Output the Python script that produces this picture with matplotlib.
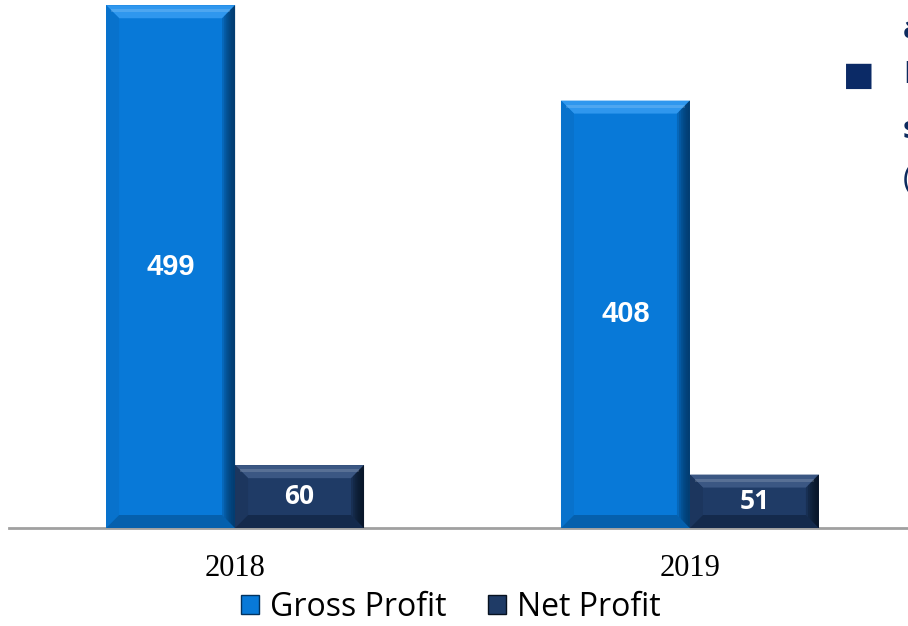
import matplotlib
matplotlib.use("Agg")
import matplotlib.pyplot as plt
from matplotlib.patches import Polygon, Rectangle
import numpy as np

# data
years = ["2018", "2019"]
gross_profit = [499, 408]
net_profit = [60, 51]
series_names = ["Gross Profit", "Net Profit"]

# colours: face, top, left, right, bottom
GROSS = ["#0879d8", "#2f97ee", "#0872cc", "#02325e", "#0560ad"]
NET = ["#1f3b66", "#3b5783", "#1c365e", "#07111f", "#142a4c"]

fig = plt.figure(figsize=(9.08, 6.26), dpi=100)
ax = fig.add_axes([9 / 908, 98 / 626, 907 / 908, 528 / 626])

x = np.arange(len(years))
w = 0.2835
ax.set_xlim(-0.497, 1.497)
ax.set_ylim(0, 504)

bars_g = ax.bar(x - w / 2, gross_profit, w, color=GROSS[0], zorder=2)
bars_n = ax.bar(x + w / 2, net_profit, w, color=NET[0], zorder=2)

# px -> data scale
sx = (1.497 + 0.497) / 907.0
sy = 504 / 528.0
bev = 13


def bevel(rect, cols):
	x0, y0 = rect.get_x(), rect.get_y()
	x1, y1 = x0 + rect.get_width(), y0 + rect.get_height()
	dx, dy = bev * sx, bev * sy
	polys = [
		([(x0, y1), (x1, y1), (x1 - dx, y1 - dy), (x0 + dx, y1 - dy)], cols[1], 1.0),
		([(x0, y0), (x0, y1), (x0 + dx, y1 - dy), (x0 + dx, y0 + dy)], cols[2], 1.0),
		([(x0, y0), (x1, y0), (x1 - dx, y0 + dy), (x0 + dx, y0 + dy)], cols[4], 1.0),
	]
	for pts, c, a in polys:
		ax.add_patch(Polygon(pts, closed=True, facecolor=c, edgecolor="none", alpha=a, zorder=3))
	# right side: darkening towards the edge
	n = 6
	for i in range(n):
		f0 = i / n
		xa = x1 - dx * (1 - f0)
		pts = [(xa, y0 + dy * (1 - f0)), (x1, y0), (x1, y1), (xa, y1 - dy * (1 - f0))]
		ax.add_patch(Polygon(pts, closed=True, facecolor=cols[3], edgecolor="none",
			alpha=0.25, zorder=3))
	# thin highlight along the top
	ax.add_patch(Rectangle((x0 + dx * 0.4, y1 - 7 * sy), x1 - x0 - dx * 0.8, 3 * sy,
		facecolor="white", alpha=0.15, edgecolor="none", zorder=4))


for b in bars_g:
	bevel(b, GROSS)
for b in bars_n:
	bevel(b, NET)

# value labels
for xi, v in zip(x, gross_profit):
	ax.text(xi - w / 2, v / 2, str(v), ha="center", va="center", color="white",
		fontsize=21, fontweight="bold", family="Liberation Sans", zorder=5)
for xi, v in zip(x, net_profit):
	ax.text(xi + w / 2, v / 2, str(v), ha="center", va="center", color="white",
		fontsize=19, fontweight="bold", family="Open Sans", zorder=5)

# axes styling
for s in ["top", "right", "left"]:
	ax.spines[s].set_visible(False)
ax.spines["bottom"].set_color("#a0a0a0")
ax.spines["bottom"].set_linewidth(2)
ax.spines["bottom"].set_zorder(1)
ax.set_yticks([])
ax.set_xticks(x)
ax.set_xticklabels(years, family="Liberation Serif", fontsize=22)
ax.tick_params(axis="x", length=0, pad=19)

# legend
handles = [Rectangle((0, 0), 1, 1, facecolor=GROSS[0], edgecolor=GROSS[3]),
	Rectangle((0, 0), 1, 1, facecolor=NET[0], edgecolor=NET[3])]
fig.legend(handles, series_names, loc="center", bbox_to_anchor=(451 / 908, 1 - 607 / 626),
	ncol=2, frameon=False, prop={"family": "Open Sans", "size": 23},
	handlelength=0.55, handleheight=0.55, handletextpad=0.35, columnspacing=1.3)

# cut-off text at the right edge (belongs to a neighbouring text block)
navy = "#0d2b5e"
fig.text(903 / 908, 1 - 30 / 626, "and", color=navy, fontsize=22, family="Open Sans",
	fontweight="bold", va="center", ha="left")
fig.text(859 / 908, 1 - 75 / 626, "\u25a0", color="#0b2a66", fontsize=24, family="DejaVu Sans",
	va="center", ha="center")
fig.text(903 / 908, 1 - 75 / 626, "Net", color=navy, fontsize=22, family="Open Sans",
	fontweight="bold", va="center", ha="left")
fig.text(903 / 908, 1 - 130 / 626, "s", color=navy, fontsize=22, family="Open Sans",
	fontweight="bold", va="center", ha="left")
fig.text(903 / 908, 1 - 180 / 626, "(", color=navy, fontsize=22, family="Open Sans",
	va="center", ha="left")

fig.savefig("out.png", dpi=100)
